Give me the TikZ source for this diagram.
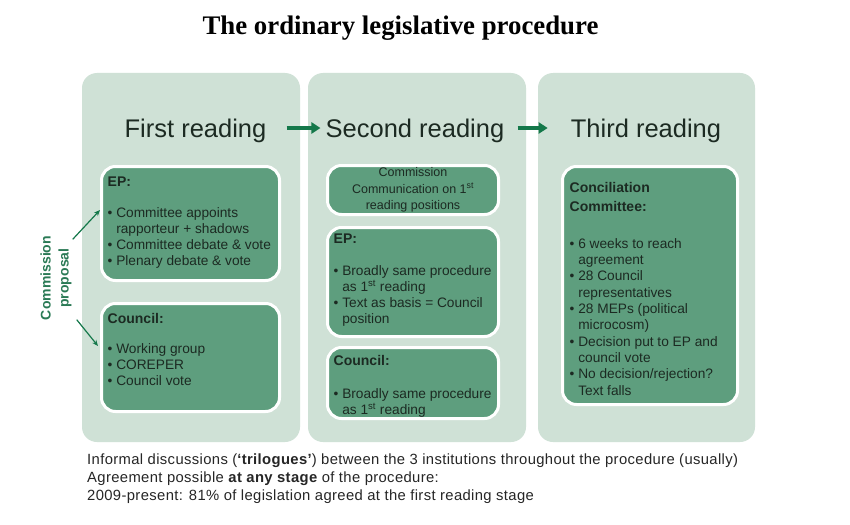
\documentclass[tikz,border=0pt]{standalone}
\usepackage{fontspec}
\setmainfont{Liberation Sans}
\newfontfamily\titlefont{Liberation Serif}
\newfontfamily\notefont[LetterSpace=2.5]{Liberation Sans}
\usepackage{tikz}
\usetikzlibrary{arrows.meta}
\definecolor{panelgreen}{HTML}{CFE1D6}
\definecolor{boxgreen}{HTML}{5E9E7E}
\definecolor{arrowgreen}{HTML}{14784A}
\definecolor{propgreen}{HTML}{2A7A55}
\definecolor{textdark}{HTML}{1C2A22}
\tikzstyle{panel} = [fill=panelgreen, rounded corners=15pt, inner sep=0pt]
\tikzstyle{inbox} = [fill=boxgreen, draw=white, line width=3pt, rounded corners=14pt, inner sep=0pt]
\newcommand{\bl}{\textbullet\ }
\newcommand{\ind}{\hphantom{\textbullet\ }}
\newcommand{\hd}{\bfseries\fontsize{14}{16}\selectfont}

\begin{document}
\begin{tikzpicture}[x=1pt, y=-1pt, >=Stealth,   %Pixelraster 850x524
				heading/.style={font=\fontsize{25.5}{30}\selectfont, text=textdark, inner sep=0pt},
				txt/.style={font=\fontsize{13.7}{16}\selectfont, text=textdark, align=left, anchor=north west, inner sep=0pt},
				flow/.style={draw=arrowgreen, line width=3.5pt, -{Triangle[length=9pt,width=11pt]}},
				prop/.style={draw=arrowgreen, line width=1.2pt, -{Stealth[length=6pt,width=5pt]}}]
				\useasboundingbox[fill=white] (0,0) rectangle (850,524);
				\node (title) at (400.5,28) {\titlefont\bfseries\fontsize{26.8}{30}\selectfont The ordinary legislative procedure};
				%Lesungen
				\node[panel, minimum width=218, minimum height=369] (p1) at (191,257.5) {};
				\node[panel, minimum width=218, minimum height=369] (p2) at (417,257.5) {};
				\node[panel, minimum width=217, minimum height=369] (p3) at (646.5,257.5) {};
				\node[heading] (h1) at (195.5,130.5) {First reading};
				\node[heading] (h2) at (415,130.5) {Second reading};
				\node[heading] (h3) at (646,130.5) {Third reading};
				\draw[flow, shorten <=20pt, shorten >=5pt] ([yshift=2.5pt]h1.east) -- ([yshift=2.5pt]h2.west);
				\draw[flow, shorten <=13pt, shorten >=23pt] ([yshift=2.5pt]h2.east) -- ([yshift=2.5pt]h3.west);
				%Kaesten
				\node[inbox, minimum width=178, minimum height=114] (ep1) at (190.5,223.5) {};
				\node[inbox, minimum width=178, minimum height=108] (co1) at (190.5,357.5) {};
				\node[inbox, minimum width=171, minimum height=49] (cc2) at (413,190) {};
				\node[inbox, minimum width=171, minimum height=109] (ep2) at (413,282) {};
				\node[inbox, minimum width=171, minimum height=71] (co2) at (413,383) {};
				\node[inbox, minimum width=175, minimum height=238] (cc3) at (650,285.5) {};
				\node[txt] (ep1t) at ([xshift=7.5pt,yshift=-12pt]ep1.north west) {{\hd EP:}\\[15pt]
					\bl Committee appoints\\
					\ind rapporteur + shadows\\
					\bl Committee debate \& vote\\
					\bl Plenary debate \& vote};
				\node[txt] (co1t) at ([xshift=7.5pt,yshift=-11.5pt]co1.north west) {{\hd Council:}\\[14pt]
					\bl Working group\\
					\bl COREPER\\
					\bl Council vote};
				\node[txt, anchor=center, align=center, font=\fontsize{12.5}{16.5}\selectfont] (cc2t) at (cc2) {Commission\\Communication on 1\textsuperscript{st}\\reading positions};
				\node[txt] (ep2t) at ([xshift=7.5pt,yshift=-7.5pt]ep2.north west) {{\hd EP:}\\[16pt]
					\bl Broadly same procedure\\
					\ind as 1\textsuperscript{st} reading\\
					\bl Text as basis = Council\\
					\ind position};
				\node[txt] (co2t) at ([xshift=7.5pt,yshift=-9.5pt]co2.north west) {{\hd Council:}\\[17pt]
					\bl Broadly same procedure\\
					\ind as 1\textsuperscript{st} reading};
				\node[txt, font=\fontsize{13.7}{16.3}\selectfont] (cc3t) at ([xshift=8.5pt,yshift=-17pt]cc3.north west) {{\hd Conciliation}\\[2.7pt]
					{\hd Committee:}\\[20.7pt]
					\bl 6 weeks to reach\\
					\ind agreement\\
					\bl 28 Council\\
					\ind representatives\\
					\bl 28 MEPs (political\\
					\ind microcosm)\\
					\bl Decision put to EP and\\
					\ind council vote\\
					\bl No decision/rejection?\\
					\ind Text falls};
				%Kommissionsvorschlag
				\node[rotate=90, align=center, inner sep=1pt, text=propgreen, font=\bfseries\fontsize{14}{18}\selectfont] (cp) at (56,278) {Commission\\proposal};
				\draw[prop] ([yshift=-4.5pt]cp.south east) -- ([yshift=13.5pt]ep1.west);
				\draw[prop] ([xshift=4pt,yshift=1.5pt]cp.south west) -- ([xshift=-2pt,yshift=11.5pt]co1.west);
				\node[txt, font=\notefont\fontsize{14.8}{18}\selectfont, text=black!85] (note) at (87,453.5) {Informal discussions ({\bfseries ‘trilogues’}) between the 3 institutions throughout the procedure (usually)\\
					Agreement possible {\bfseries at any stage} of the procedure:\\
					2009-present: 81\% of legislation agreed at the first reading stage};
			\end{tikzpicture}
\end{document}
